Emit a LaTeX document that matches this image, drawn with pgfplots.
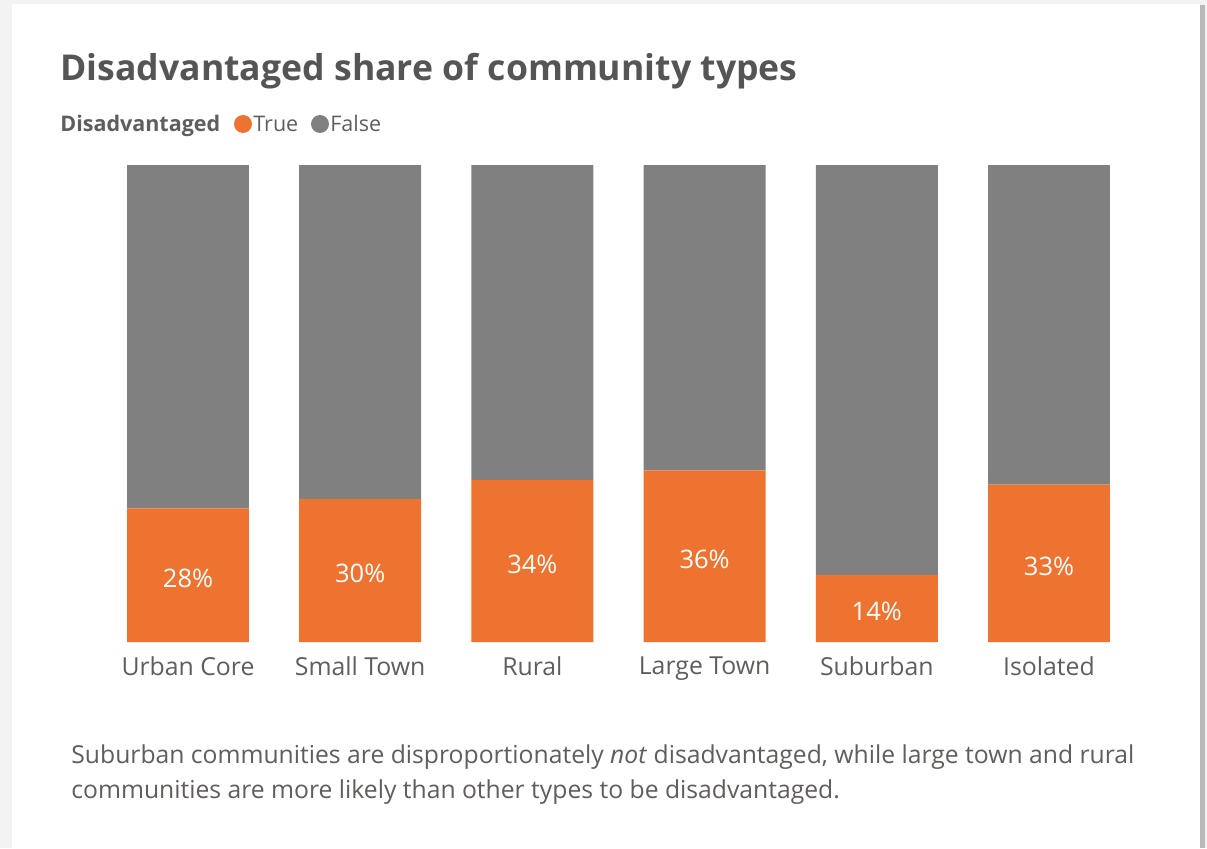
\documentclass[border=0pt]{standalone}
\usepackage{pgfplots}
\pgfplotsset{compat=1.18}
\usepackage{fontspec}
\setmainfont{Open Sans}
\definecolor{orng}{HTML}{EE7330}
\definecolor{gry}{HTML}{808080}
\definecolor{txt}{HTML}{605E5C}
\definecolor{ttl}{HTML}{555555}
\definecolor{bg}{HTML}{F3F3F3}
\definecolor{shadow}{HTML}{B8B8B8}
\begin{document}
\begin{tikzpicture}
% background card (1px = 0.5pt, picture 603.5 x 424 pt)
\fill[bg] (0pt,0pt) rectangle (603.5pt,424pt);
\fill[shadow] (600pt,0pt) rectangle (602.5pt,421.5pt);
\fill[white] (6pt,0pt) rectangle (600pt,422pt);
% title
\node[anchor=base west, inner sep=0pt, text=ttl, font=\fontsize{17.8}{20}\selectfont\bfseries] at (30pt,383.5pt) {Disadvantaged share of community types};
% legend
\node[anchor=base west, inner sep=0pt, text=txt, font=\fontsize{10.75}{12}\selectfont\bfseries] at (30pt,358pt) {Disadvantaged};
\fill[orng] (121.5pt,362pt) circle (4.5pt);
\node[anchor=base west, inner sep=0pt, text=txt, font=\fontsize{10.75}{12}\selectfont] at (126.5pt,358pt) {True};
\fill[gry] (160pt,362pt) circle (4.5pt);
\node[anchor=base west, inner sep=0pt, text=txt, font=\fontsize{10.75}{12}\selectfont] at (165pt,358pt) {False};
% caption
\node[anchor=base west, inner sep=0pt, text=txt, font=\fontsize{12.35}{14}\selectfont] at (35.5pt,42.5pt) {Suburban communities are disproportionately \textit{not} disadvantaged, while large town and rural};
\node[anchor=base west, inner sep=0pt, text=txt, font=\fontsize{12.35}{14}\selectfont] at (35.5pt,25pt) {communities are more likely than other types to be disadvantaged.};
\begin{axis}[
  at={(50.95pt,103pt)}, anchor=south west,
  scale only axis, width=516.6pt, height=238.5pt,
  xmin=-0.5, xmax=5.5, ymin=0, ymax=100,
  ybar stacked, bar width=0.708,
  axis line style={draw=none}, tick style={draw=none},
  ytick=\empty,
  xtick={0,1,2,3,4,5},
  xticklabels={Urban Core,Small Town,Rural,Large Town,Suburban,Isolated},
  xticklabel style={text=txt, font=\fontsize{12.4}{14}\selectfont, yshift=-4pt},
]
\addplot[fill=orng, draw=none] coordinates {(0,28) (1,30) (2,34) (3,36) (4,14) (5,33)};
\addplot[fill=gry, draw=none] coordinates {(0,72) (1,70) (2,66) (3,64) (4,86) (5,67)};
\end{axis}
\begin{axis}[
  at={(50.95pt,103pt)}, anchor=south west,
  scale only axis, width=516.6pt, height=238.5pt,
  xmin=-0.5, xmax=5.5, ymin=0, ymax=100,
  hide axis,
]
\addplot[only marks, mark=none, nodes near coords, point meta=explicit symbolic,
  nodes near coords style={anchor=center, yshift=-1.5pt, text=white, font=\fontsize{12.75}{14}\selectfont}]
  coordinates {(0,14)[28\%] (1,15)[30\%] (2,17)[34\%] (3,18)[36\%] (4,7)[14\%] (5,16.5)[33\%]};
\end{axis}
\end{tikzpicture}
\end{document}
